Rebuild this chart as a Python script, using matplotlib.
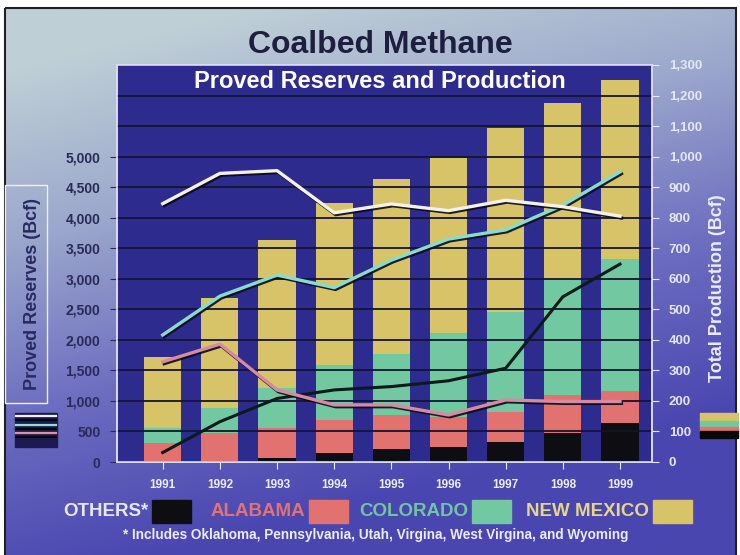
import numpy as np
import matplotlib.pyplot as plt
import matplotlib.patheffects as pe
from matplotlib.colors import LinearSegmentedColormap
from matplotlib.patches import Rectangle

plt.rcParams['font.family'] = ['Liberation Sans', 'DejaVu Sans']
plt.rcParams['font.weight'] = 'bold'

years = ['1991', '1992', '1993', '1994', '1995', '1996', '1997', '1998', '1999']

# production by state (Bcf), stacked bars on the right axis
prod_others = [0, 0, 12, 28, 41, 50, 67, 96, 127]
prod_alabama = [63, 94, 98, 109, 113, 98, 98, 123, 105]
prod_colorado = [47, 82, 131, 181, 200, 273, 327, 377, 432]
prod_new_mexico = [235, 360, 486, 529, 573, 575, 603, 580, 587]

# proved reserves by state (Bcf), lines on the left axis
res_new_mexico = [4230, 4725, 4770, 4080, 4225, 4115, 4285, 4180, 4025]
res_colorado = [2080, 2715, 3060, 2855, 3305, 3650, 3800, 4205, 4750]
res_alabama = [1640, 1930, 1180, 935, 935, 770, 1015, 990, 990]
res_others = [155, 660, 1040, 1180, 1235, 1330, 1535, 2705, 3240]

c_others = '#0e0e12'
c_alabama = '#e27270'
c_colorado = '#72c8a0'
c_nm = '#d8c468'

W, H = 740, 555
fig = plt.figure(figsize=(7.4, 5.55), dpi=100)


def px(x, y):
    return x / W, 1 - y / H


# background slide
bg = fig.add_axes([0, 0, 1, 1])
bg.set_zorder(-1)
bg.set_xlim(0, W)
bg.set_ylim(H, 0)
bg.axis('off')
yy, xx = np.mgrid[0:1:200j, 0:1:200j]
t = np.clip(yy * 1.05 + xx * 0.35 - 0.12, 0, 1)
cmap = LinearSegmentedColormap.from_list('slide', ['#bfcfd6', '#9aa6cc', '#6c6cc0', '#4a46b0'])
bg.imshow(t, cmap=cmap, extent=(5, 736, 560, 8), origin='upper', aspect='auto')
bg.add_patch(Rectangle((5, 8), 731, 560, fill=False, ec='#202020', lw=1.5))

# main axes: bars (production) on the right scale
ax = fig.add_axes([117 / W, 93 / H, 535 / W, 397 / H])
ax.set_facecolor('#2d2b8e')
x = np.arange(len(years))
bw = 0.65
b1 = np.array(prod_others)
b2 = b1 + np.array(prod_alabama)
b3 = b2 + np.array(prod_colorado)
ax.bar(x, prod_others, bw, color=c_others, zorder=1)
ax.bar(x, prod_alabama, bw, bottom=b1, color=c_alabama, zorder=1)
ax.bar(x, prod_colorado, bw, bottom=b2, color=c_colorado, zorder=1)
ax.bar(x, prod_new_mexico, bw, bottom=b3, color=c_nm, zorder=1)
ax.set_xlim(-0.8, 8.56)
ax.set_ylim(0, 1300)
ax.set_yticks(np.arange(0, 1301, 100))
ax.set_yticklabels([f'{v:,}' for v in range(0, 1301, 100)])
ax.yaxis.grid(True, color='#141432', lw=1.3)
ax.set_axisbelow(False)
ax.set_xticks(x)
ax.set_xticklabels(years)
ax.tick_params(axis='x', colors='#eeeef6', length=5, labelsize=8.5, pad=7)
for s in ax.spines.values():
    s.set_color('#dcdcf0')
    s.set_linewidth(1.2)

# reserves lines on the left scale
ax2 = ax.twinx()
ax.yaxis.tick_right()
ax.tick_params(axis='y', colors='#e6e6f2', length=5, labelsize=9.5, pad=7)
shadow = [pe.SimpleLineShadow(offset=(1, -1.3), shadow_color='#08081c', alpha=0.9), pe.Normal()]
ax2.plot(x, res_others, color='#0c1a1c', lw=2.2, zorder=3)
ax2.plot(x, res_alabama, color='#d88aa0', lw=2.4, path_effects=shadow, zorder=4)
ax2.plot(x, res_colorado, color='#86dccf', lw=2.4, path_effects=shadow, zorder=5)
ax2.plot(x, res_new_mexico, color='#f4f2e8', lw=2.4, path_effects=shadow, zorder=6)
ax2.set_ylim(0, 6500)
ax2.set_yticks(np.arange(0, 5001, 500))
ax2.set_yticklabels([f'{v:,}' for v in range(0, 5001, 500)])
ax2.yaxis.tick_left()
ax2.tick_params(axis='y', colors='#2a2a58', length=5, labelsize=10, pad=7)
for s in ax2.spines.values():
    s.set_color('#dcdcf0')
    s.set_linewidth(1.2)

# titles and axis labels
fig.text(*px(380, 45), 'Coalbed Methane', ha='center', va='center',
         fontsize=23, color='#1e1e40')
fig.text(*px(380, 82), 'Proved Reserves and Production', ha='center', va='center',
         fontsize=17, color='white')
fig.text(*px(33, 294), 'Proved Reserves (Bcf)', ha='center', va='center', rotation=90,
         fontsize=13, color='#2a2a62')
bg.add_patch(Rectangle((5, 185), 42, 218, fill=False, ec='#eef0f6', lw=1))
fig.text(*px(717, 288), 'Total Production (Bcf)', ha='center', va='center', rotation=90,
         fontsize=13, color='#ececf6')

# small key icons beside the axis titles
bg.add_patch(Rectangle((15, 413), 42, 34, color='#1c1a50'))
for yline, col in [(416, '#f0f0f0'), (420, '#080808'), (425, '#8ee0d0'),
                   (429, '#080808'), (433, '#e090a8'), (437, '#080808')]:
    bg.plot([16, 56], [yline, yline], color=col, lw=1.6)
for y0, h, col in [(413, 8, c_nm), (421, 6, c_colorado), (427, 4, c_alabama), (431, 7, '#080808')]:
    bg.add_patch(Rectangle((700, y0), 38, h, color=col))

# bottom legend
legend_items = [('OTHERS*', '#e8e8f2', c_others, 152),
                ('ALABAMA', '#e07474', c_alabama, 309),
                ('COLORADO', '#72c4a2', c_colorado, 472),
                ('NEW MEXICO', '#e6d688', c_nm, 653)]
for label, tcol, fcol, sx in legend_items:
    bg.add_patch(Rectangle((sx, 500), 39, 23, color=fcol))
    fig.text(*px(sx - 4, 512), label, ha='right', va='center', fontsize=13.5, color=tcol)
fig.text(*px(376, 535), '* Includes Oklahoma, Pennsylvania, Utah, Virgina, West Virgina, and Wyoming',
         ha='center', va='center', fontsize=9.8, color='#ececf4')

fig.savefig('out.png', dpi=100)
